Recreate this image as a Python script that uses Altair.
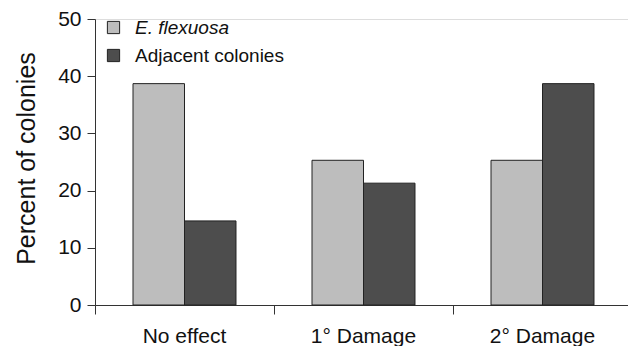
import altair as alt
import pandas as pd

categories = ["No effect", "1° Damage", "2° Damage"]
series = ["E. flexuosa", "Adjacent colonies"]
flexuosa = [38.7, 25.3, 25.3]
adjacent = [14.7, 21.3, 38.7]
colors = ["#bdbdbd", "#4d4d4d"]
y_ticks = [0, 10, 20, 30, 40, 50]

rows = []
for c, a, b in zip(categories, flexuosa, adjacent):
    rows.append({"cat": c, "series": series[0], "value": a})
    rows.append({"cat": c, "series": series[1], "value": b})
df = pd.DataFrame(rows)

FONT = "Liberation Sans"

chart = alt.Chart(df).mark_bar(stroke="#222222", strokeWidth=1).encode(
    x=alt.X("cat:N", sort=categories,
            scale=alt.Scale(range=[0, 537], paddingInner=0, paddingOuter=0),
            axis=alt.Axis(title=None, bandPosition=0,
                          tickSize=9, labelPadding=11, labelAngle=0,
                          labelFontSize=21, labelFont=FONT, labelColor="#111111",
                          domainColor="#333333", tickColor="#333333",
                          labelBaseline="top")),
    xOffset=alt.XOffset("series:N", sort=series,
                        scale=alt.Scale(paddingInner=0, paddingOuter=0.738)),
    y=alt.Y("value:Q", scale=alt.Scale(domain=[0, 50], nice=False),
            axis=alt.Axis(title="Percent of colonies", values=y_ticks, grid=False,
                          tickSize=8, labelPadding=6, labelFontSize=21, labelFont=FONT,
                          labelColor="#111111", domainColor="#333333", tickColor="#333333",
                          titleFont=FONT, titleFontSize=25, titleFontWeight="normal",
                          titleColor="#111111", titleAngle=-90, titleX=-61, titleY=139,
                          titleAlign="center", titleBaseline="alphabetic")),
    color=alt.Color("series:N", sort=series,
                    scale=alt.Scale(domain=series, range=colors),
                    legend=alt.Legend(title=None, orient="none", legendX=9, legendY=-1,
                                      padding=0, symbolType="square", symbolSize=150,
                                      symbolStrokeColor="#222222", symbolStrokeWidth=1,
                                      labelFont=FONT, labelFontSize=19, labelColor="#111111",
                                      labelOffset=12, rowPadding=8, symbolOpacity=1,
                                      labelFontStyle=alt.ExprRef(expr="datum.label == 'E. flexuosa' ? 'italic' : 'normal'"))),
).properties(
    width=533, height=286,
    autosize=alt.AutoSizeParams(type="none"),
    padding={"left": 95, "top": 19, "right": 0, "bottom": 41},
).configure_view(stroke=None).configure(background="white")

chart.save("out.html", embed_options={"renderer": "svg", "actions": False})
